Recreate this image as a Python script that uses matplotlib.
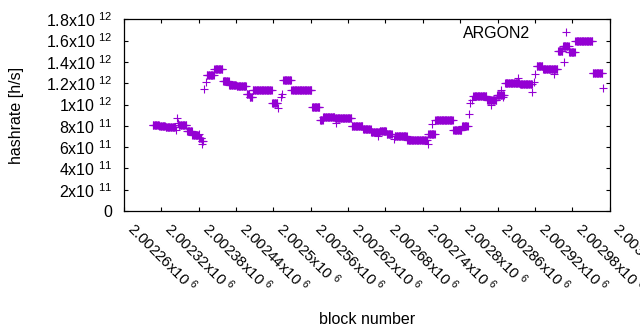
import matplotlib
matplotlib.use("Agg")
import matplotlib.pyplot as plt
import matplotlib.transforms as mtransforms
import numpy as np

plt.rcParams['font.family'] = ['Liberation Sans', 'DejaVu Sans']
plt.rcParams['mathtext.fontset'] = 'custom'
plt.rcParams['mathtext.rm'] = 'Liberation Sans'
plt.rcParams['mathtext.default'] = 'regular'

# plateaus of the hashrate estimate: first block, last block, value (x1e11 h/s)
run_start = [2002306, 2002317, 2002327, 2002348, 2002361, 2002370, 2002380, 2002385,
             2002393, 2002405, 2002419, 2002429, 2002441, 2002457, 2002462, 2002467,
             2002498, 2002516, 2002529, 2002562, 2002575, 2002580, 2002599, 2002626,
             2002644, 2002657, 2002671, 2002682, 2002695, 2002715, 2002749, 2002760,
             2002789, 2002803, 2002821, 2002843, 2002859, 2002872, 2002896, 2002923,
             2002933, 2002957, 2002965, 2002975, 2002985, 2003013]
run_end = [2002316, 2002326, 2002342, 2002360, 2002369, 2002379, 2002384, 2002387,
           2002404, 2002418, 2002428, 2002440, 2002456, 2002461, 2002466, 2002497,
           2002506, 2002528, 2002561, 2002574, 2002579, 2002598, 2002625, 2002643,
           2002656, 2002670, 2002681, 2002690, 2002714, 2002746, 2002759, 2002788,
           2002802, 2002812, 2002842, 2002858, 2002870, 2002895, 2002915, 2002932,
           2002956, 2002964, 2002974, 2002984, 2003012, 2003028]
run_value = [8.10, 8.00, 7.85, 8.10, 7.55, 7.10, 6.85, 6.60,
             12.80, 13.30, 12.20, 11.85, 11.70, 10.95, 10.75, 11.35,
             10.15, 12.30, 11.40, 9.75, 8.50, 8.80, 8.70, 8.00,
             7.70, 7.40, 7.50, 7.20, 7.05, 6.65, 7.20, 8.50,
             7.60, 8.00, 10.80, 10.40, 10.90, 12.00, 11.95, 13.60,
             13.30, 15.00, 15.50, 14.90, 16.00, 13.00]

# isolated blocks off the plateaus
single_block = [2002344, 2002345, 2002346, 2002381, 2002386, 2002389, 2002391, 2002508,
                2002512, 2002514, 2002601, 2002668, 2002693, 2002748, 2002755, 2002814,
                2002816, 2002819, 2002850, 2002866, 2002868, 2002893, 2002916, 2002918,
                2002920, 2002950, 2002966, 2003030]
single_value = [7.60, 8.70, 8.30, 7.20, 6.25, 11.50, 12.10, 9.70,
                10.70, 11.00, 8.25, 7.00, 6.80, 6.25, 8.20, 9.10,
                10.10, 10.40, 10.00, 11.35, 10.70, 12.50, 11.15, 12.10,
                12.85, 12.90, 14.00, 11.55]

x_ticks = [2002260, 2002320, 2002380, 2002440, 2002500, 2002560, 2002620,
           2002680, 2002740, 2002800, 2002860, 2002920, 2002980, 2003040]
x_labels = ['2.00226x10 $^{6}$', '2.00232x10 $^{6}$', '2.00238x10 $^{6}$',
            '2.00244x10 $^{6}$', '2.0025x10 $^{6}$', '2.00256x10 $^{6}$',
            '2.00262x10 $^{6}$', '2.00268x10 $^{6}$', '2.00274x10 $^{6}$',
            '2.0028x10 $^{6}$', '2.00286x10 $^{6}$', '2.00292x10 $^{6}$',
            '2.00298x10 $^{6}$', '2.00304x10 $^{6}$']
y_ticks = [0, 2e11, 4e11, 6e11, 8e11, 1e12, 1.2e12, 1.4e12, 1.6e12, 1.8e12]
y_labels = ['0', '2x10 $^{11}$', '4x10 $^{11}$', '6x10 $^{11}$', '8x10 $^{11}$',
            '1x10 $^{12}$', '1.2x10 $^{12}$', '1.4x10 $^{12}$', '1.6x10 $^{12}$',
            '1.8x10 $^{12}$']

blocks = np.concatenate([np.arange(s, e + 1) for s, e in zip(run_start, run_end)] + [single_block])
rates = np.concatenate([np.full(e - s + 1, v) for s, e, v in zip(run_start, run_end, run_value)]
                       + [single_value]) * 1e11

fig = plt.figure(figsize=(6.4, 3.3), dpi=100)
ax = fig.add_axes([124 / 640, 1 - 211 / 330, 485.6 / 640, 191.7 / 330])

ax.plot(blocks, rates, linestyle='none', marker='+', color='#9400d3',
        markersize=5.2, markeredgewidth=0.8, label='ARGON2')

ax.set_xlim(2002260, 2003040)
ax.set_ylim(0, 1.8e12)
ax.set_xticks(x_ticks)
ax.set_xticklabels(x_labels, rotation=-45, ha='left', va='baseline',
                   rotation_mode='anchor', fontsize=10.8)
ax.set_yticks(y_ticks)
ax.set_yticklabels(y_labels)

ax.tick_params(direction='in', length=3, width=0.8, top=True, right=True,
               colors='black')
ax.tick_params(axis='y', labelsize=11.5, pad=8.4)
ax.tick_params(axis='x', pad=13.5)
shift = mtransforms.ScaledTranslation(2 / 100, 0, fig.dpi_scale_trans)
for lbl in ax.get_xticklabels():
    lbl.set_transform(lbl.get_transform() + shift)
for s in ax.spines.values():
    s.set_linewidth(0.9)

ax.set_xlabel('block number', fontsize=11.5, va='center')
ax.xaxis.set_label_coords(0.5, (211 - 320) / 191.7)
ax.set_ylabel('hashrate [h/s]', fontsize=11.5, va='center')
ax.yaxis.set_label_coords((16.5 - 124) / 485.6, 0.5)

ax.legend(loc='upper right', bbox_to_anchor=(0.949, 0.9666), frameon=False,
          markerfirst=False, handlelength=2.3, handletextpad=1.1, borderpad=0,
          borderaxespad=0, fontsize=11.5)

fig.savefig('out.png', dpi=100)
